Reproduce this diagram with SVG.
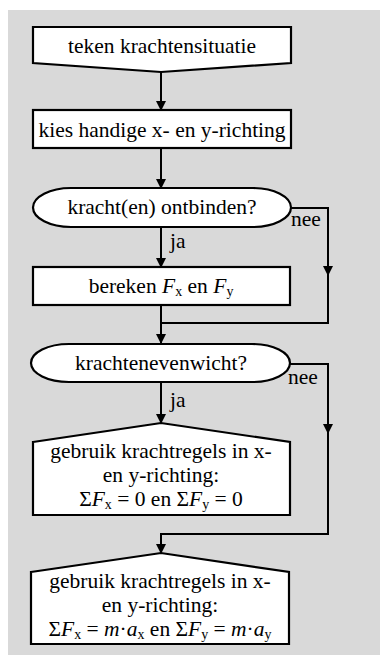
<svg xmlns="http://www.w3.org/2000/svg" width="380" height="655" viewBox="0 0 380 655">
<defs>
<style>
.shape{fill:#fff;stroke:#000;stroke-width:2.2}
.t{font-family:'Liberation Serif',serif;font-size:21.5px;fill:#000;text-anchor:middle}
.l{font-family:'Liberation Serif',serif;font-size:21.5px;fill:#000}
.i{font-style:italic}
.s{font-size:14px}
.c{fill:none;stroke:#000;stroke-width:2}
</style>
<marker id="ah" markerWidth="10" markerHeight="10" refX="9" refY="5" orient="auto" markerUnits="userSpaceOnUse">
<path d="M0,0 L10,5 L0,10 Z" fill="#000"/>
</marker>
</defs>
<rect x="8" y="10" width="372" height="645" fill="#d9d9d9"/>
<g id="connectors">
<line class="c" x1="161" y1="72" x2="161" y2="110" marker-end="url(#ah)"/>
<line class="c" x1="161" y1="148" x2="161" y2="188" marker-end="url(#ah)"/>
<line class="c" x1="161" y1="227" x2="161" y2="267" marker-end="url(#ah)"/>
<polyline class="c" points="290,208 328,208 328,275" marker-end="url(#ah)"/>
<polyline class="c" points="328,270 328,323 161,323"/>
<line class="c" x1="161" y1="305" x2="161" y2="343" marker-end="url(#ah)"/>
<line class="c" x1="161" y1="382" x2="161" y2="423" marker-end="url(#ah)"/>
<polyline class="c" points="289,364 328,364 328,433" marker-end="url(#ah)"/>
<polyline class="c" points="328,428 328,534 161,534 161,553" marker-end="url(#ah)"/>
<text class="l" x="291" y="226">nee</text>
<text class="l" x="170" y="248">ja</text>
<text class="l" x="288" y="384">nee</text>
<text class="l" x="170" y="407">ja</text>
</g>
<g id="n1">
<path class="shape" d="M33,27 H291 V63 L161,72 L33,63 Z"/>
<text class="t" x="162" y="53">teken krachtensituatie</text>
</g>
<g id="n2">
<rect class="shape" x="33" y="110" width="258" height="38"/>
<text class="t" x="162" y="137">kies handige x- en y-richting</text>
</g>
<g id="n3">
<rect class="shape" x="33" y="188" width="258" height="39" rx="38" ry="19.5"/>
<text class="t" x="162" y="214">kracht(en) ontbinden?</text>
</g>
<g id="n4">
<rect class="shape" x="33" y="267" width="257" height="38"/>
<text class="t" x="161" y="293">bereken <tspan class="i">F</tspan><tspan class="s" dy="3">x</tspan><tspan dy="-3"> en </tspan><tspan class="i">F</tspan><tspan class="s" dy="3">y</tspan></text>
</g>
<g id="n5">
<rect class="shape" x="31" y="344" width="259" height="38" rx="38" ry="19"/>
<text class="t" x="161" y="370">krachtenevenwicht?</text>
</g>
<g id="n6">
<path class="shape" d="M33,442 L161,423 L290,442 V515 H33 Z"/>
<text class="t" x="161" y="458">gebruik krachtregels in x-</text>
<text class="t" x="161" y="482">en y-richting:</text>
<text class="t" x="161" y="506">Σ<tspan class="i">F</tspan><tspan class="s" dy="3">x</tspan><tspan dy="-3"> = 0 en Σ</tspan><tspan class="i">F</tspan><tspan class="s" dy="3">y</tspan><tspan dy="-3"> = 0</tspan></text>
</g>
<g id="n7">
<path class="shape" d="M31,572 L161,553 L289,572 V644 H31 Z"/>
<text class="t" x="160" y="588">gebruik krachtregels in x-</text>
<text class="t" x="160" y="612">en y-richting:</text>
<text class="t" x="160" y="636">Σ<tspan class="i">F</tspan><tspan class="s" dy="3">x</tspan><tspan dy="-3"> = </tspan><tspan class="i">m</tspan>·<tspan class="i">a</tspan><tspan class="s" dy="3">x</tspan><tspan dy="-3"> en Σ</tspan><tspan class="i">F</tspan><tspan class="s" dy="3">y</tspan><tspan dy="-3"> = </tspan><tspan class="i">m</tspan>·<tspan class="i">a</tspan><tspan class="s" dy="3">y</tspan></text>
</g>
</svg>
